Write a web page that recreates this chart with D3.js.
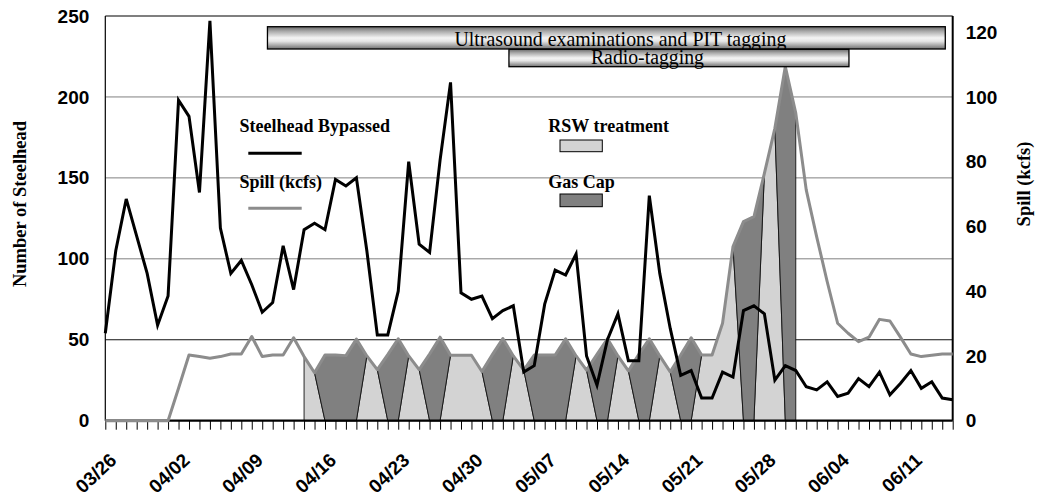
<!DOCTYPE html>
<html lang="en">
<head>
<meta charset="utf-8">
<title>Steelhead bypassed and spill</title>
<script src="https://cdn.jsdelivr.net/npm/d3@7"></script>
<style>
  body { margin: 0; background: #fff; }
  svg { display: block; }
</style>
</head>
<body>
<svg class="chart"></svg>
<script>
// 1. Data (one value per day, 03/26 .. 06/15)
var firstDay = new Date(2001, 2, 26),
    lastDay = new Date(2001, 5, 15);
var days = d3.timeDay.range(firstDay, d3.timeDay.offset(lastDay, 1));

var dateLabels = ["03/26", "04/02", "04/09", "04/16", "04/23", "04/30",
                  "05/07", "05/14", "05/21", "05/28", "06/04", "06/11"];

var steelhead = [54, 105, 137, 114, 91, 59, 77, 198, 188, 141,
                 247, 119, 91, 99, 84, 67, 73, 108, 81, 118,
                 122, 118, 149, 145, 150, 105, 53, 53, 80, 160,
                 109, 104, 161, 209, 79, 75, 77, 63, 68, 71,
                 30, 34, 72, 93, 90, 103, 40, 22, 50, 66,
                 37, 37, 139, 91, 57, 28, 31, 14, 14, 30,
                 27, 68, 71, 66, 25, 34, 31, 21, 19, 24,
                 15, 17, 26, 21, 30, 16, 23, 31, 20, 24,
                 14, 13];

var spill = [0, 0, 0, 0, 0, 0, 0, 10, 20.3, 19.8,
             19.3, 19.8, 20.6, 20.6, 26, 19.8, 20.3, 20.3, 25.6, 19.8,
             14.8, 20.3, 20.3, 20.1, 25.2, 20, 15.8, 20.4, 25.3, 20,
             15.8, 20.6, 25.8, 20.2, 20.2, 20.2, 15.2, 20.4, 25.4, 20,
             15.6, 20.3, 20.3, 20.3, 25.3, 20, 15.6, 20.5, 25.3, 20,
             15.4, 20.5, 25.3, 20, 15.1, 20.3, 25.6, 20.3, 20.3, 30.1,
             53.8, 61.5, 63, 76.4, 90.3, 109.4, 95, 71.3, 56.8, 43,
             30.1, 27, 24.4, 25.8, 31.3, 30.8, 25.8, 20.6, 19.8, 20.2,
             20.6, 20.6];

// treatment of each day from 04/14 (day index 19) to 05/31: R = RSW, G = gas cap
var treatmentStart = 19;
var treatment = ["R", "R", "G", "G", "G", "G", "R", "R", "G", "G",
                 "R", "R", "G", "G", "R", "R", "R", "R", "G", "G",
                 "R", "R", "G", "G", "G", "G", "R", "R", "G", "G",
                 "R", "R", "G", "G", "R", "R", "G", "G", "R", "R",
                 "R", "R", "G", "G", "R", "R", "G", "G"];

var leftTicks = [0, 50, 100, 150, 200, 250];
var rightTicks = [0, 20, 40, 60, 80, 100, 120];

// study periods, in days after 03/26
var periodNames = ["Ultrasound examinations and PIT tagging", "Radio-tagging"];
var periodStart = [15.5, 38.6];
var periodEnd = [80.3, 71.1];

(function() {
  // 2. Layout
  var W = 1042, H = 498,
      plotL = 105.3, plotR = 952.7, plotT = 16, plotB = 420.7;

  var svg = d3.select(".chart").attr("width", W).attr("height", H);
  svg.append("rect").attr("width", W).attr("height", H).attr("fill", "#fff");

  var fmt = d3.timeFormat("%m/%d");
  var x = d3.scaleTime().domain([days[0], days[days.length - 1]]).range([plotL, plotR]);
  var yL = d3.scaleLinear().domain([0, 250]).range([plotB, plotT]);
  var yR = d3.scaleLinear().domain([0, 125]).range([plotB, plotT]);

  var rows = days.map(function(d, i) {
    var t = i >= treatmentStart ? treatment[i - treatmentStart] : null;
    return {
      date: d, fish: steelhead[i], spill: spill[i], t: t,
      rsw: t === "R" ? spill[i] : 0,
      gas: t === "G" ? spill[i] : 0
    };
  });
  var treated = rows.filter(function(r) { return r.t; });

  // 3. Gridlines
  svg.append("g").selectAll("line")
    .data(leftTicks.filter(function(v) { return v > 0 && v < 250; }))
    .enter().append("line")
    .attr("x1", plotL).attr("x2", plotR)
    .attr("y1", function(v) { return yL(v); }).attr("y2", function(v) { return yL(v); })
    .attr("stroke", function(v) { return v === 50 ? "#111" : "#808080"; })
    .attr("stroke-width", 1);

  // 4. Treatment areas (stacked: RSW below, gas cap on top)
  svg.append("path").datum(treated)
    .attr("fill", "#d3d3d3").attr("stroke", "#111").attr("stroke-width", 0.9)
    .attr("d", d3.area()
      .x(function(d) { return x(d.date); })
      .y0(yR(0))
      .y1(function(d) { return yR(d.rsw); }));

  svg.append("path").datum(treated)
    .attr("fill", "#808080").attr("stroke", "#111").attr("stroke-width", 0.9)
    .attr("d", d3.area()
      .x(function(d) { return x(d.date); })
      .y0(function(d) { return yR(d.rsw); })
      .y1(function(d) { return yR(d.rsw + d.gas); }));

  // 5. Plot frame and x axis
  svg.append("line").attr("x1", plotL).attr("x2", plotL).attr("y1", plotT).attr("y2", plotB)
    .attr("stroke", "#000").attr("stroke-width", 1.2);
  svg.append("line").attr("x1", plotL).attr("x2", plotR).attr("y1", plotT).attr("y2", plotT)
    .attr("stroke", "#000").attr("stroke-width", 1.2);
  svg.append("line").attr("x1", plotR).attr("x2", plotR).attr("y1", plotT).attr("y2", plotB)
    .attr("stroke", "#000").attr("stroke-width", 2);

  var xAxis = d3.axisBottom(x).tickValues(days).tickSize(9).tickPadding(0)
    .tickFormat(function(d) { return dateLabels.indexOf(fmt(d)) >= 0 ? fmt(d) : ""; });

  var gx = svg.append("g").attr("transform", "translate(0," + plotB + ")").call(xAxis);
  gx.select(".domain").remove();
  gx.selectAll("line").attr("stroke", "#000").attr("stroke-width", 1);
  gx.selectAll("text")
    .attr("x", 0).attr("y", 0).attr("dy", 0)
    .attr("text-anchor", "end")
    .attr("transform", "translate(12,41) rotate(-43)")
    .style("font", "bold 19px 'Liberation Sans', Arial, sans-serif")
    .style("fill", "#000");

  svg.append("line").attr("x1", plotL).attr("x2", plotR).attr("y1", plotB).attr("y2", plotB)
    .attr("stroke", "#000").attr("stroke-width", 2.2);

  // 6. Lines
  svg.append("path").datum(rows)
    .attr("fill", "none").attr("stroke", "#8c8c8c").attr("stroke-width", 3)
    .attr("stroke-linejoin", "round")
    .attr("d", d3.line().x(function(d) { return x(d.date); }).y(function(d) { return yR(d.spill); }));

  svg.append("path").datum(rows)
    .attr("fill", "none").attr("stroke", "#000").attr("stroke-width", 3)
    .attr("stroke-linejoin", "miter")
    .attr("d", d3.line().x(function(d) { return x(d.date); }).y(function(d) { return yL(d.fish); }));

  // 7. Y axes
  var tickFont = "bold 19px 'Liberation Sans', Arial, sans-serif";
  var gl = svg.append("g").attr("transform", "translate(" + plotL + ",0)")
    .call(d3.axisLeft(yL).tickValues(leftTicks).tickSize(0).tickPadding(16));
  gl.select(".domain").remove();
  gl.selectAll("text").style("font", tickFont).style("fill", "#000");

  var gr = svg.append("g").attr("transform", "translate(" + plotR + ",0)")
    .call(d3.axisRight(yR).tickValues(rightTicks).tickSize(0).tickPadding(13));
  gr.select(".domain").remove();
  gr.selectAll("text").style("font", tickFont).style("fill", "#000");

  var titleFont = "bold 18.5px 'Liberation Serif', 'Times New Roman', serif";
  svg.append("text").attr("transform", "translate(26,204) rotate(-90)")
    .attr("text-anchor", "middle").style("font", titleFont).text("Number of Steelhead");
  svg.append("text").attr("transform", "translate(1030,184) rotate(-90)")
    .attr("text-anchor", "middle").style("font", titleFont).text("Spill (kcfs)");

  // 8. Study period bars
  var grad = svg.append("defs").append("linearGradient")
    .attr("id", "barShade").attr("x1", 0).attr("y1", 0).attr("x2", 0).attr("y2", 1);
  [[0, "#6a6a6a"], [0.2, "#a8a8a8"], [0.5, "#f4f4f4"], [0.65, "#e6e6e6"], [1, "#707070"]]
    .forEach(function(s) { grad.append("stop").attr("offset", s[0]).attr("stop-color", s[1]); });

  var barTop = [26.7, 49.3], barBottom = [49, 66.7],
      textOffset = [187, 82], textBase = [45.5, 64], textSize = [22, 20], textLen = [332, 113];

  periodNames.forEach(function(name, i) {
    var x0 = x(d3.timeHour.offset(firstDay, periodStart[i] * 24)),
        x1 = x(d3.timeHour.offset(firstDay, periodEnd[i] * 24));
    svg.append("rect").attr("x", x0).attr("y", barTop[i])
      .attr("width", x1 - x0).attr("height", barBottom[i] - barTop[i])
      .attr("fill", "url(#barShade)").attr("stroke", "#000").attr("stroke-width", 1.3);
    svg.append("text").attr("x", x0 + textOffset[i]).attr("y", textBase[i])
      .attr("textLength", textLen[i]).attr("lengthAdjust", "spacingAndGlyphs")
      .style("font", textSize[i] + "px 'Liberation Serif', 'Times New Roman', serif")
      .style("fill", "#000").text(name);
  });

  // 9. Legend
  var legFont = "bold 18px 'Liberation Serif', 'Times New Roman', serif";
  var legend = svg.append("g");
  legend.append("text").attr("x", 239.5).attr("y", 131.7).style("font", legFont).text("Steelhead Bypassed");
  legend.append("line").attr("x1", 248.3).attr("x2", 301.7).attr("y1", 153.3).attr("y2", 153.3)
    .attr("stroke", "#000").attr("stroke-width", 3);
  legend.append("text").attr("x", 239.5).attr("y", 188.3).style("font", legFont).text("Spill (kcfs)");
  legend.append("line").attr("x1", 248.3).attr("x2", 301.7).attr("y1", 208.3).attr("y2", 208.3)
    .attr("stroke", "#8c8c8c").attr("stroke-width", 3);

  legend.append("text").attr("x", 548.3).attr("y", 131.7).style("font", legFont).text("RSW treatment");
  legend.append("rect").attr("x", 560).attr("y", 140).attr("width", 42.3).attr("height", 11.7)
    .attr("fill", "#d3d3d3").attr("stroke", "#000").attr("stroke-width", 1);
  legend.append("text").attr("x", 548.3).attr("y", 188.3).style("font", legFont).text("Gas Cap");
  legend.append("rect").attr("x", 560).attr("y", 194).attr("width", 42.3).attr("height", 12.7)
    .attr("fill", "#808080").attr("stroke", "#000").attr("stroke-width", 1);
})();
</script>
</body>
</html>
